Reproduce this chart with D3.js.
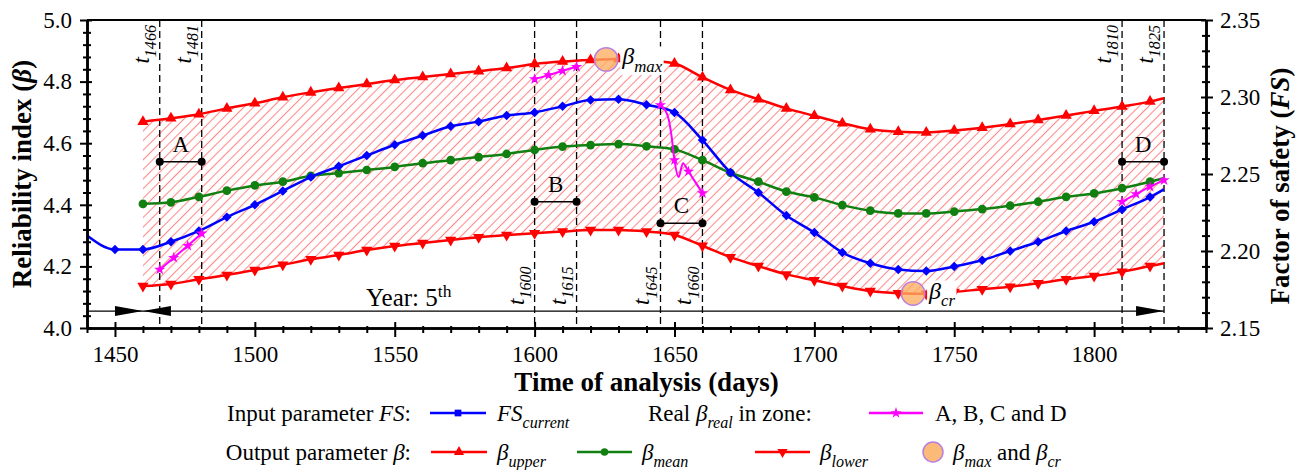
<!DOCTYPE html>
<html>
<head>
<meta charset="utf-8">
<script src="https://cdn.jsdelivr.net/npm/d3@7"></script>
<style>
body { margin: 0; background: #fff; }
svg { display: block; font-family: "Liberation Serif", "Times New Roman", serif; }
</style>
</head>
<body>
<script>
// ---- data ----
// bounds of beta (left axis), every 10 days + end of year 5
const days = [1460, 1470, 1480, 1490, 1500, 1510, 1520, 1530, 1540, 1550, 1560, 1570, 1580, 1590,
  1600, 1610, 1620, 1630, 1640, 1650, 1660, 1670, 1680, 1690,
  1700, 1710, 1720, 1730, 1740, 1750, 1760, 1770, 1780, 1790,
  1800, 1810, 1820, 1825]
const betaUpper = [4.670, 4.681, 4.694, 4.713, 4.730, 4.749, 4.765, 4.779, 4.792, 4.805, 4.815, 4.825, 4.834, 4.844,
  4.857, 4.865, 4.870, 4.873, 4.870, 4.859, 4.814, 4.773, 4.743, 4.713,
  4.689, 4.665, 4.645, 4.637, 4.635, 4.641, 4.650, 4.662, 4.675, 4.690,
  4.705, 4.719, 4.735, 4.746]
const betaMean = [4.403, 4.408, 4.426, 4.446, 4.463, 4.475, 4.494, 4.503, 4.513, 4.523, 4.535, 4.545, 4.555, 4.565,
  4.578, 4.589, 4.594, 4.597, 4.590, 4.580, 4.545, 4.504, 4.475, 4.443,
  4.424, 4.399, 4.381, 4.372, 4.372, 4.378, 4.386, 4.397, 4.410, 4.426,
  4.437, 4.454, 4.475, 4.487]
const betaLower = [4.136, 4.143, 4.158, 4.172, 4.188, 4.205, 4.223, 4.237, 4.253, 4.266, 4.276, 4.286, 4.295, 4.302,
  4.308, 4.313, 4.318, 4.318, 4.313, 4.302, 4.267, 4.230, 4.201, 4.174,
  4.155, 4.136, 4.120, 4.113, 4.111, 4.117, 4.126, 4.134, 4.145, 4.158,
  4.169, 4.183, 4.201, 4.210]

// factor of safety (right axis)
const fsDays = [1440, 1450, 1460, 1470, 1480, 1490, 1500, 1510, 1520, 1530, 1540, 1550, 1560, 1570, 1580, 1590,
  1600, 1610, 1620, 1630, 1640, 1650, 1660, 1670, 1680, 1690,
  1700, 1710, 1720, 1730, 1740, 1750, 1760, 1770, 1780, 1790,
  1800, 1810, 1820, 1825]
const fsCurrent = [2.210, 2.201, 2.201, 2.206, 2.213, 2.222, 2.230, 2.239, 2.248, 2.255, 2.262, 2.269, 2.275, 2.281, 2.284, 2.288,
  2.290, 2.294, 2.298, 2.2985, 2.295, 2.290, 2.272, 2.251, 2.238, 2.223,
  2.212, 2.199, 2.192, 2.188, 2.187, 2.190, 2.194, 2.200, 2.206, 2.213,
  2.219, 2.227, 2.235, 2.240]

// real beta inside the four zones
const realADays = [1466, 1471, 1476, 1481]
const realA = [4.190, 4.228, 4.267, 4.307]
const realBDays = [1600, 1605, 1610, 1615]
const realB = [4.808, 4.821, 4.835, 4.848]
const realCDays = [1645, 1646.5, 1648, 1649, 1650, 1651.5, 1653, 1655, 1657, 1660]
const realC = [4.724, 4.710, 4.675, 4.620, 4.545, 4.490, 4.535, 4.508, 4.480, 4.438]
const realDDays = [1810, 1815, 1820, 1825]
const realD = [4.410, 4.435, 4.459, 4.480]

// zones
const zoneNames = ['A', 'B', 'C', 'D']
const zoneStart = [1466, 1600, 1645, 1810]
const zoneEnd = [1481, 1615, 1660, 1825]
const zoneLevel = [4.54, 4.41, 4.34, 4.54]

// beta max / beta critical
const peakNames = ['max', 'cr']
const peakDays = [1625.6, 1735.3]
const peakBeta = [4.872, 4.112]

// year 5 arrow
const yearStart = 1460
const yearEnd = 1825
const yearLevel = 4.055

// ticks
const xTicks = [1450, 1500, 1550, 1600, 1650, 1700, 1750, 1800]
const xMinor = [1440, 1460, 1470, 1480, 1490, 1510, 1520, 1530, 1540, 1560, 1570, 1580, 1590, 1610, 1620, 1630, 1640,
  1660, 1670, 1680, 1690, 1710, 1720, 1730, 1740, 1760, 1770, 1780, 1790, 1810, 1820, 1830, 1840]
const yTicks = [4.0, 4.2, 4.4, 4.6, 4.8, 5.0]
const yMinor = [4.04, 4.08, 4.12, 4.16, 4.24, 4.28, 4.32, 4.36, 4.44, 4.48, 4.52, 4.56, 4.64, 4.68, 4.72, 4.76, 4.84, 4.88, 4.92, 4.96]
const y2Ticks = [2.15, 2.20, 2.25, 2.30, 2.35]
const y2Minor = [2.16, 2.17, 2.18, 2.19, 2.21, 2.22, 2.23, 2.24, 2.26, 2.27, 2.28, 2.29, 2.31, 2.32, 2.33, 2.34]

// ---- chart ----
const m = { left: 87, right: 1206, top: 20, bottom: 328 }
const FS = 23
const SERIF = '"Liberation Serif", "Times New Roman", serif'

const x = d3.scaleLinear().domain([1440, 1840]).range([m.left, m.right])
const y = d3.scaleLinear().domain([4.0, 5.0]).range([m.bottom, m.top])
const y2 = d3.scaleLinear().domain([2.15, 2.35]).range([m.bottom, m.top])

const svg = d3.select('body').append('svg').attr('width', 1306).attr('height', 470)
  .attr('font-family', SERIF)

const defs = svg.append('defs')
defs.append('pattern').attr('id', 'hatch').attr('patternUnits', 'userSpaceOnUse')
  .attr('width', 6.8).attr('height', 6.8).attr('patternTransform', 'rotate(45)')
  .append('line').attr('x1', 3.4).attr('y1', 0).attr('x2', 3.4).attr('y2', 6.8)
  .attr('stroke', '#ff8a8a').attr('stroke-width', 1.1)

// text with italic / sub / sup pieces
function rich(g, parts, size) {
  const t = g.append('text').attr('font-size', size)
  let shift = 0
  parts.forEach(p => {
    const s = t.append('tspan').text(p.t)
    if (p.i) s.attr('font-style', 'italic')
    const target = p.sub ? size * 0.32 : p.sup ? -size * 0.38 : 0
    if (target !== shift) { s.attr('dy', target - shift); shift = target }
    if (p.sub || p.sup) s.attr('font-size', size * 0.7)
  })
  return t
}

const bounds = days.map((d, i) => ({ day: d, hi: betaUpper[i], mid: betaMean[i], lo: betaLower[i] }))

// hatched band
svg.append('path').datum(bounds)
  .attr('d', d3.area().x(d => x(d.day)).y0(d => y(d.lo)).y1(d => y(d.hi)).curve(d3.curveMonotoneX))
  .attr('fill', 'url(#hatch)')

// zone boundaries
const zones = zoneNames.map((n, i) => ({ name: n, a: zoneStart[i], b: zoneEnd[i], lvl: zoneLevel[i], top: n == 'A' || n == 'D' }))
const vDays = zones.flatMap(z => [z.a, z.b])
svg.selectAll('.vline').data(vDays).enter().append('line')
  .attr('x1', d => x(d)).attr('x2', d => x(d)).attr('y1', m.top).attr('y2', m.bottom)
  .attr('stroke', '#000').attr('stroke-width', 1.3).attr('stroke-dasharray', '7,4')

// year 5 arrow
const ya = y(yearLevel)
svg.append('line').attr('x1', m.left).attr('x2', x(yearEnd)).attr('y1', ya).attr('y2', ya)
  .attr('stroke', '#000').attr('stroke-width', 1.3)
const hw = 5, al = x(yearStart) - x(yearStart - 10)
svg.append('path').attr('fill', '#000')
  .attr('d', `M${x(yearStart) - al},${ya - hw}L${x(yearStart)},${ya}L${x(yearStart) - al},${ya + hw}Z` +
    `M${x(yearStart) + al},${ya - hw}L${x(yearStart)},${ya}L${x(yearStart) + al},${ya + hw}Z` +
    `M${x(yearEnd) - al},${ya - hw}L${x(yearEnd)},${ya}L${x(yearEnd) - al},${ya + hw}Z`)
rich(svg, [{ t: 'Year: 5' }, { t: 'th', sup: true }], 25)
  .attr('x', x(1555)).attr('y', ya - 5).attr('text-anchor', 'middle')

// zone segments
const zg = svg.selectAll('.zone').data(zones).enter().append('g')
zg.append('line').attr('x1', d => x(d.a)).attr('x2', d => x(d.b)).attr('y1', d => y(d.lvl)).attr('y2', d => y(d.lvl))
  .attr('stroke', '#000').attr('stroke-width', 1.5)
zg.append('circle').attr('cx', d => x(d.a)).attr('cy', d => y(d.lvl)).attr('r', 4)
zg.append('circle').attr('cx', d => x(d.b)).attr('cy', d => y(d.lvl)).attr('r', 4)
zg.append('text').attr('x', d => x((d.a + d.b) / 2)).attr('y', d => y(d.lvl) - 10)
  .attr('text-anchor', 'middle').attr('font-size', FS).text(d => d.name)

// series
const line = (fx, fy) => d3.line().x(fx).y(fy).curve(d3.curveMonotoneX)
const sym = (type, size) => d3.symbol().type(type).size(size)()

function series(data, key, color, symbol, rot) {
  svg.append('path').datum(data).attr('d', line(d => x(d.day), d => y(d[key])))
    .attr('fill', 'none').attr('stroke', color).attr('stroke-width', 2.5)
  svg.selectAll(null).data(data.filter(d => d.day % 10 === 0)).enter().append('path')
    .attr('d', symbol).attr('fill', color)
    .attr('transform', d => `translate(${x(d.day)},${y(d[key])})` + (rot ? ' rotate(180)' : ''))
}
series(bounds, 'lo', '#ff0000', sym(d3.symbolTriangle, 55), true)
series(bounds, 'mid', '#118011', sym(d3.symbolCircle, 60), false)
series(bounds, 'hi', '#ff0000', sym(d3.symbolTriangle, 55), false)

const fsData = fsDays.map((d, i) => ({ day: d, v: fsCurrent[i] }))
svg.append('path').datum(fsData).attr('d', line(d => x(d.day), d => y2(d.v)))
  .attr('fill', 'none').attr('stroke', '#0000ff').attr('stroke-width', 2.5)
svg.selectAll(null).data(fsData.filter(d => d.day % 10 === 0 && d.day > 1440)).enter().append('path')
  .attr('d', sym(d3.symbolSquare, 45)).attr('fill', '#0000ff')
  .attr('transform', d => `translate(${x(d.day)},${y2(d.v)}) rotate(45)`)

// real beta, stars every 5 days from the zone start
const reals = [[realADays, realA], [realBDays, realB], [realCDays, realC], [realDDays, realD]]
reals.forEach(([ds, vs]) => {
  const data = ds.map((d, i) => ({ day: d, v: vs[i] }))
  svg.append('path').datum(data).attr('d', line(d => x(d.day), d => y(d.v)))
    .attr('fill', 'none').attr('stroke', '#ff00ff').attr('stroke-width', 2)
  svg.selectAll(null).data(data.filter(d => (d.day - ds[0]) % 5 === 0)).enter().append('path')
    .attr('d', sym(d3.symbolStar, 40)).attr('fill', '#ff00ff')
    .attr('transform', d => `translate(${x(d.day)},${y(d.v)})`)
})

// beta max / cr
peakNames.forEach((n, i) => {
  const cx = x(peakDays[i]), cy = y(peakBeta[i])
  const lab = rich(svg, [{ t: 'β', i: true }, { t: n, i: true, sub: true }], 24)
    .attr('x', cx + 16).attr('y', cy + 5)
  const bb = lab.node().getBBox()
  svg.insert('rect', () => lab.node()).attr('x', bb.x - 1).attr('y', bb.y + 3).attr('width', bb.width + 2)
    .attr('height', bb.height - 4).attr('fill', '#fff')
  svg.append('circle').attr('cx', cx).attr('cy', cy).attr('r', 11.7)
    .attr('fill', '#fbae62').attr('fill-opacity', 0.78).attr('stroke', '#b77fe0').attr('stroke-width', 1.5)
})

// t labels
zones.forEach(z => {
  [z.a, z.b].forEach(d => {
    rich(svg, [{ t: 't', i: true }, { t: String(d), i: true, sub: true }], FS)
      .attr('transform', `translate(${x(d) - 11},${z.top ? 25 : 305}) rotate(-90)`)
      .attr('text-anchor', z.top ? 'end' : 'start')
  })
})

// ---- axes ----
svg.append('line').attr('x1', m.left).attr('x2', m.right).attr('y1', m.top).attr('y2', m.top)
  .attr('stroke', '#000').attr('stroke-width', 2)

function axis(gen, scale, tr, vals, size, labels, pad, fmt) {
  const g = svg.append('g').attr('transform', tr)
  g.call(gen(scale).tickValues(vals).tickSize(size).tickSizeOuter(0).tickPadding(pad)
    .tickFormat(labels ? fmt : ''))
  g.attr('font-family', SERIF).attr('font-size', FS)
  g.selectAll('text').attr('fill', '#000').style('font-family', SERIF)
  g.selectAll('line').attr('stroke-width', 2)
  g.select('.domain').attr('stroke-width', 2)
  return g
}
const fx = d3.format('d'), f1 = d3.format('.1f'), f2 = d3.format('.2f')
axis(d3.axisBottom, x, `translate(0,${m.bottom})`, xTicks, 9, true, 9, fx)
axis(d3.axisTop, x, `translate(0,${m.bottom})`, xTicks, 6, false, 0)
axis(d3.axisBottom, x, `translate(0,${m.bottom})`, xMinor, 5, false, 0)
axis(d3.axisTop, x, `translate(0,${m.bottom})`, xMinor, 2, false, 0)

axis(d3.axisLeft, y, `translate(${m.left},0)`, yTicks, 7, true, 8, f1)
axis(d3.axisRight, y, `translate(${m.left},0)`, yTicks, 5, false, 0)
axis(d3.axisLeft, y, `translate(${m.left},0)`, yMinor, 4, false, 0)
axis(d3.axisRight, y, `translate(${m.left},0)`, yMinor, 4, false, 0)

axis(d3.axisRight, y2, `translate(${m.right},0)`, y2Ticks, 7, true, 7, f2)
axis(d3.axisLeft, y2, `translate(${m.right},0)`, y2Ticks, 5, false, 0)
axis(d3.axisRight, y2, `translate(${m.right},0)`, y2Minor, 4, false, 0)
axis(d3.axisLeft, y2, `translate(${m.right},0)`, y2Minor, 4, false, 0)

// axis titles
svg.append('text').attr('x', (m.left + m.right) / 2).attr('y', 391).attr('text-anchor', 'middle')
  .attr('font-size', 27).attr('font-weight', 'bold').text('Time of analysis (days)')
rich(svg, [{ t: 'Reliability index (' }, { t: 'β', i: true }, { t: ')' }], 27)
  .attr('font-weight', 'bold').attr('text-anchor', 'middle')
  .attr('transform', `translate(31,${(m.top + m.bottom) / 2}) rotate(-90)`)
rich(svg, [{ t: 'Factor of safety (' }, { t: 'FS', i: true }, { t: ')' }], 27)
  .attr('font-weight', 'bold').attr('text-anchor', 'middle')
  .attr('transform', `translate(1289,${(m.top + m.bottom) / 2 + 12}) rotate(-90)`)

// ---- legend ----
const lg = svg.append('g')
const r1 = 413, r2 = 452
function legLine(x1, x2, yy, color, mark, rot) {
  lg.append('line').attr('x1', x1).attr('x2', x2).attr('y1', yy).attr('y2', yy)
    .attr('stroke', color).attr('stroke-width', 2.5)
  lg.append('path').attr('d', mark).attr('fill', color)
    .attr('transform', `translate(${(x1 + x2) / 2},${yy})` + (rot ? ' rotate(180)' : ''))
}
rich(lg, [{ t: 'Input parameter ' }, { t: 'FS', i: true }, { t: ':' }], FS).attr('x', 411).attr('y', r1 + 8).attr('text-anchor', 'end')
legLine(430, 486, r1, '#0000ff', sym(d3.symbolSquare, 45))
rich(lg, [{ t: 'FS', i: true }, { t: 'current', i: true, sub: true }], FS).attr('x', 497).attr('y', r1 + 8)
rich(lg, [{ t: 'Real ' }, { t: 'β', i: true }, { t: 'real', i: true, sub: true }, { t: ' in zone:' }], FS).attr('x', 648).attr('y', r1 + 8)
legLine(869, 923, r1, '#ff00ff', sym(d3.symbolStar, 40))
rich(lg, [{ t: 'A, B, C and D' }], FS).attr('x', 935).attr('y', r1 + 8)

rich(lg, [{ t: 'Output parameter ' }, { t: 'β', i: true }, { t: ':' }], FS).attr('x', 411).attr('y', r2 + 8).attr('text-anchor', 'end')
legLine(431, 487, r2, '#ff0000', sym(d3.symbolTriangle, 45))
rich(lg, [{ t: 'β', i: true }, { t: 'upper', i: true, sub: true }], FS).attr('x', 497).attr('y', r2 + 8)
legLine(577, 632, r2, '#118011', sym(d3.symbolCircle, 45))
rich(lg, [{ t: 'β', i: true }, { t: 'mean', i: true, sub: true }], FS).attr('x', 642).attr('y', r2 + 8)
legLine(755, 810, r2, '#ff0000', sym(d3.symbolTriangle, 45), true)
rich(lg, [{ t: 'β', i: true }, { t: 'lower', i: true, sub: true }], FS).attr('x', 820).attr('y', r2 + 8)
lg.append('circle').attr('cx', 933).attr('cy', r2).attr('r', 10)
  .attr('fill', '#fbae62').attr('fill-opacity', 0.85).attr('stroke', '#b77fe0').attr('stroke-width', 1.5)
rich(lg, [{ t: 'β', i: true }, { t: 'max', i: true, sub: true }, { t: ' and ' }, { t: 'β', i: true }, { t: 'cr', i: true, sub: true }], FS)
  .attr('x', 953).attr('y', r2 + 8)
</script>
</body>
</html>
